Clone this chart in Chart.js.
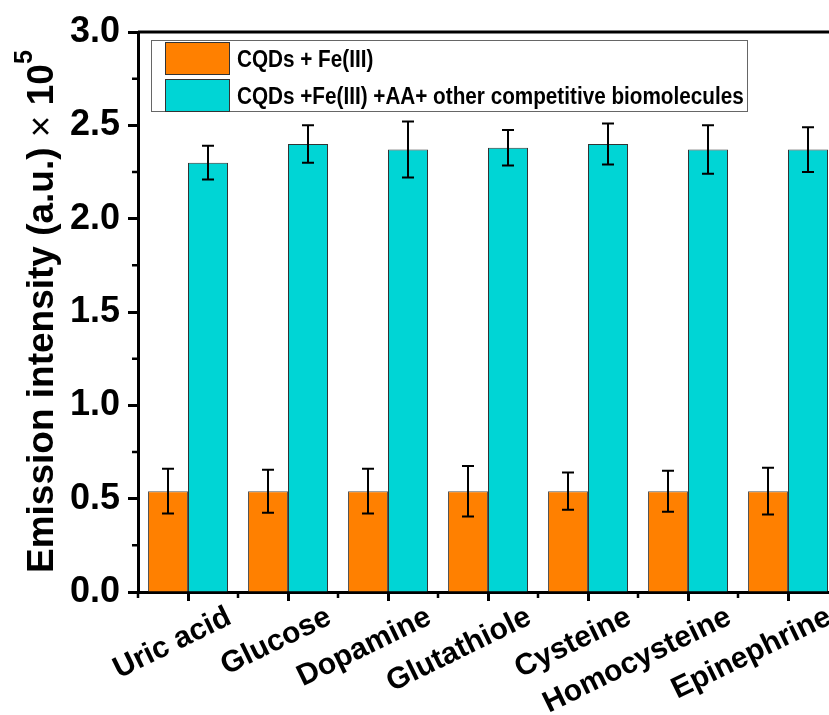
<!DOCTYPE html>
<html lang="en">
<head>
    <meta charset="UTF-8">
    <title>Emission intensity</title>
    <script src="https://cdn.jsdelivr.net/npm/chart.js"></script>
    <style>
        html, body { margin: 0; padding: 0; overflow: hidden; background: #fff; }
    </style>
</head>
<body>
    <canvas id="chart" width="845" height="715"></canvas>
    <script>
        // data
        const categories = ['Uric acid', 'Glucose', 'Dopamine', 'Glutathiole', 'Cysteine', 'Homocysteine', 'Epinephrine'];
        const feValues = [0.54, 0.54, 0.54, 0.54, 0.54, 0.54, 0.54];
        const feErrors = [0.12, 0.115, 0.12, 0.135, 0.10, 0.11, 0.125];
        const mixValues = [2.30, 2.40, 2.37, 2.38, 2.40, 2.37, 2.37];
        const mixErrors = [0.09, 0.10, 0.15, 0.095, 0.11, 0.13, 0.12];
        const seriesNames = ['CQDs + Fe(III)', 'CQDs +Fe(III) +AA+ other competitive biomolecules'];
        const yTicks = [0, 0.5, 1.0, 1.5, 2.0, 2.5, 3.0];

        const FONT = '"Liberation Sans", Arial, sans-serif';
        const errorSets = [feErrors, mixErrors];

        const extras = {
            id: 'extras',
            afterDatasetsDraw(chart) {
                const c = chart.ctx;
                const y = chart.scales.y;
                c.save();
                c.strokeStyle = '#000';
                c.lineWidth = 2;
                chart.data.datasets.forEach((ds, d) => {
                    chart.getDatasetMeta(d).data.forEach((bar, i) => {
                        const v = ds.data[i], e = errorSets[d][i];
                        const top = y.getPixelForValue(v + e);
                        const bot = y.getPixelForValue(v - e);
                        c.beginPath();
                        c.moveTo(bar.x, top); c.lineTo(bar.x, bot);
                        c.moveTo(bar.x - 6, top); c.lineTo(bar.x + 6, top);
                        c.moveTo(bar.x - 6, bot); c.lineTo(bar.x + 6, bot);
                        c.stroke();
                    });
                });
                c.restore();
            },
            afterDraw(chart) {
                const c = chart.ctx;
                const a = chart.chartArea;
                const x = chart.scales.x, y = chart.scales.y;
                c.save();

                // frame top and right
                c.strokeStyle = '#000';
                c.lineWidth = 3;
                c.beginPath();
                c.moveTo(a.left, a.top); c.lineTo(a.right, a.top); c.lineTo(a.right, a.bottom);
                c.stroke();

                // minor ticks
                c.lineWidth = 2.5;
                c.beginPath();
                for (let i = 0; i < yTicks.length - 1; i++) {
                    const py = y.getPixelForValue((yTicks[i] + yTicks[i + 1]) / 2);
                    c.moveTo(a.left - 6, py); c.lineTo(a.left, py);
                }
                for (let i = 0; i <= categories.length; i++) {
                    const px = x.getPixelForValue(i - 0.5);
                    c.moveTo(px, a.bottom); c.lineTo(px, a.bottom + 6);
                }
                c.stroke();

                // x labels, rotated
                c.fillStyle = '#000';
                c.font = 'bold 30px ' + FONT;
                c.textAlign = 'right';
                c.textBaseline = 'alphabetic';
                categories.forEach((lab, i) => {
                    c.save();
                    c.translate(x.getPixelForValue(i) + 45, a.bottom + 31);
                    c.rotate(-26 * Math.PI / 180);
                    c.fillText(lab, 0, 0);
                    c.restore();
                });

                // y title
                c.save();
                c.translate(53, 573);
                c.rotate(-Math.PI / 2);
                c.textAlign = 'left';
                const parts = [
                    ['Emission intensity (a.u.) ', 'bold 37px ', 0],
                    ['\u00d7 ', '37px ', 0],
                    ['10', 'bold 37px ', 0],
                    ['5', 'bold 25px ', -21]
                ];
                let tx = 0;
                parts.forEach(p => {
                    c.font = p[1] + FONT;
                    c.fillText(p[0], tx, p[2]);
                    tx += c.measureText(p[0]).width;
                });
                c.restore();

                // legend box
                const lx = a.left + 13, ly = a.top + 8;
                c.fillStyle = '#fff';
                c.fillRect(lx, ly, 596, 71);
                c.strokeStyle = '#666';
                c.lineWidth = 1;
                c.strokeRect(lx + 0.5, ly + 0.5, 596, 71);
                chart.data.datasets.forEach((ds, d) => {
                    const sy = ly + 2 + d * 37;
                    c.fillStyle = ds.backgroundColor;
                    c.fillRect(lx + 14, sy, 64, 32);
                    c.strokeStyle = '#333';
                    c.strokeRect(lx + 14.5, sy + 0.5, 64, 32);
                    c.save();
                    c.translate(lx + 86, sy + 25);
                    c.scale(0.9, 1);
                    c.fillStyle = '#000';
                    c.font = 'bold 23px ' + FONT;
                    c.textAlign = 'left';
                    c.fillText(ds.label, 0, 0);
                    c.restore();
                });
                c.restore();
            }
        };

        const config = {
            type: 'bar',
            data: {
                labels: categories,
                datasets: [{
                    label: seriesNames[0],
                    data: feValues,
                    backgroundColor: '#FF8000',
                    borderColor: '#555',
                    borderWidth: 1
                }, {
                    label: seriesNames[1],
                    data: mixValues,
                    backgroundColor: '#00D5D5',
                    borderColor: '#333',
                    borderWidth: 1
                }]
            },
            options: {
                responsive: false,
                animation: false,
                categoryPercentage: 0.8,
                barPercentage: 1.0,
                layout: { padding: { top: 32, right: 7, left: 0, bottom: 0 } },
                plugins: {
                    legend: { display: false },
                    tooltip: { enabled: false }
                },
                scales: {
                    x: {
                        grid: {
                            offset: false,
                            drawOnChartArea: false,
                            tickLength: 9,
                            tickWidth: 3,
                            tickColor: '#000'
                        },
                        border: { display: true, color: '#000', width: 3 },
                        ticks: { display: false },
                        afterFit(scale) { scale.height = 123; }
                    },
                    y: {
                        min: 0,
                        max: 3,
                        afterBuildTicks(scale) { scale.ticks = yTicks.map(v => ({ value: v })); },
                        grid: {
                            drawOnChartArea: false,
                            tickLength: 10,
                            tickWidth: 3,
                            tickColor: '#000'
                        },
                        border: { display: true, color: '#000', width: 3 },
                        ticks: {
                            color: '#000',
                            padding: 8,
                            font: { family: FONT, size: 36, weight: 'bold' },
                            callback: v => v.toFixed(1)
                        },
                        afterFit(scale) { scale.width = 138; }
                    }
                }
            },
            plugins: [extras]
        };

        new Chart(document.getElementById('chart'), config);
    </script>
</body>
</html>
